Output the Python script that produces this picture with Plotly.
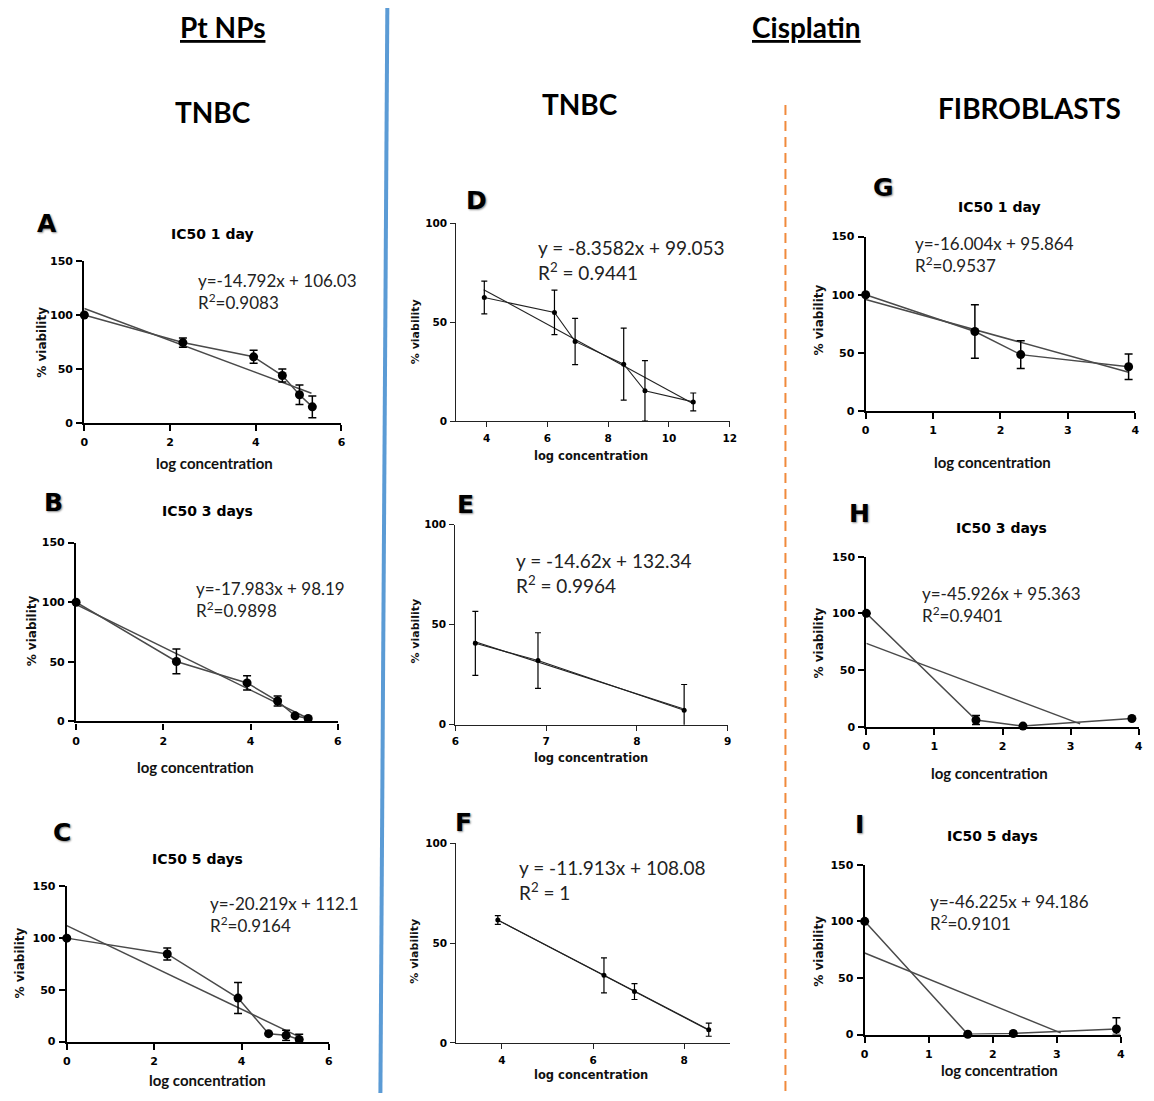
import plotly.graph_objects as go

# browser window size; the page body keeps its default 8px margin,
# so the figure is made 16px smaller to fit the window exactly
WIN_W, WIN_H = 1154, 1101
OFF = 8
W, H = WIN_W - 2 * OFF, WIN_H - 2 * OFF

# ---------------- data ----------------
# Pt NPs - TNBC
A_x = [0, 2.3, 3.95, 4.62, 5.02, 5.32]
A_y = [100, 74.5, 61.3, 44, 26.2, 15]
A_err = [0, 4.3, 6, 6, 9, 10]
A_fit_x = [0, 5.3]
A_fit_y = [106.0, 27.6]

B_x = [0, 2.3, 3.92, 4.62, 5.02, 5.32]
B_y = [100, 50.3, 32.3, 17.1, 4.7, 2.5]
B_err = [0, 10.4, 6, 4.2, 1, 1]
B_fit_x = [0, 5.3]
B_fit_y = [98.2, 2.9]

C_x = [0, 2.3, 3.92, 4.62, 5.02, 5.32]
C_y = [100, 84.7, 42, 7.6, 6, 2]
C_err = [0, 5.8, 15, 0, 5, 5]
C_fit_x = [0, 5.3]
C_fit_y = [112.1, 5.0]

# Cisplatin - TNBC
D_x = [3.92, 6.23, 6.91, 8.51, 9.21, 10.8]
D_y = [62.5, 55, 40.3, 28.8, 15.3, 9.7]
D_err = [8.3, 11.3, 11.7, 18.2, 15.3, 4.5]
D_fit_x = [3.9, 10.8]
D_fit_y = [66.5, 8.8]

E_x = [6.22, 6.91, 8.52]
E_y = [40.7, 32.1, 7.2]
E_err = [16, 13.9, 12.9]
E_fit_x = [6.2, 8.5]
E_fit_y = [41.7, 8.1]

F_x = [3.91, 6.24, 6.91, 8.54]
F_y = [61.5, 33.8, 25.7, 6.6]
F_err = [2.2, 8.8, 4, 3.3]
F_fit_x = [3.9, 8.5]
F_fit_y = [61.6, 6.8]

# Cisplatin - Fibroblasts
G_x = [0, 1.62, 2.3, 3.9]
G_y = [100, 68.5, 48.6, 38.2]
G_err = [0, 23, 12, 11]
G_fit_x = [0, 3.9]
G_fit_y = [95.9, 33.5]

H_x = [0, 1.61, 2.3, 3.9]
H_y = [100, 5.8, 0.5, 7.2]
H_err = [0, 4, 0, 0]
H_fit_x = [0, 3.14]
H_fit_y = [73.5, 2.5]

I_x = [0, 1.61, 2.32, 3.93]
I_y = [100, 0.3, 1, 5]
I_err_plus = [0, 0, 0, 10]
I_err_minus = [0, 0, 0, 5]
I_fit_x = [0, 3.06]
I_fit_y = [72, 1.5]

# labels / texts
letters = ["A", "B", "C", "D", "E", "F", "G", "H", "I"]
titles = ["IC50 1 day", "IC50 3 days", "IC50 5 days", "", "", "",
          "IC50 1 day", "IC50 3 days", "IC50 5 days"]
eq_lines = ["y=-14.792x + 106.03", "y=-17.983x + 98.19", "y=-20.219x + 112.1",
            "y = -8.3582x + 99.053", "y = -14.62x + 132.34", "y = -11.913x + 108.08",
            "y=-16.004x + 95.864", "y=-45.926x + 95.363", "y=-46.225x + 94.186"]
r2_lines = ["R<sup>2</sup>=0.9083", "R<sup>2</sup>=0.9898", "R<sup>2</sup>=0.9164",
            "R<sup>2</sup> = 0.9441", "R<sup>2</sup> = 0.9964", "R<sup>2</sup> = 1",
            "R<sup>2</sup>=0.9537", "R<sup>2</sup>=0.9401", "R<sup>2</sup>=0.9101"]
xticks_gp = [0, 2, 4, 6]
xticks_fib = [0, 1, 2, 3, 4]
yticks_150 = [0, 50, 100, 150]
yticks_100 = [0, 50, 100]
xticks_D = [4, 6, 8, 10, 12]
xticks_E = [6, 7, 8, 9]
xticks_F = [4, 6, 8]

# ---------------- layout geometry (window pixels) ----------------
panels = [
    dict(st="gp", x=A_x, y=A_y, ep=A_err, em=A_err, fx=A_fit_x, fy=A_fit_y,
         box=(81, 340.7, 258, 422), xr=[0, 6], yr=[0, 150], xt=xticks_gp, yt=yticks_150,
         letter=(43, 220), title=(210, 231), eq=(194, 289), xl=(212, 462), yl=(38, 340)),
    dict(st="gp", x=B_x, y=B_y, ep=B_err, em=B_err, fx=B_fit_x, fy=B_fit_y,
         box=(72.7, 337, 543, 724), xr=[0, 6], yr=[0, 150], xt=xticks_gp, yt=yticks_150,
         letter=(50, 502), title=(205, 511), eq=(192, 601), xl=(193, 770), yl=(28, 632)),
    dict(st="gp", x=C_x, y=C_y, ep=C_err, em=C_err, fx=C_fit_x, fy=C_fit_y,
         box=(63.3, 328, 891, 1048), xr=[0, 6], yr=[0, 150], xt=xticks_gp, yt=yticks_150,
         letter=(58, 836), title=(195, 863), eq=(206, 919), xl=(205, 1087), yl=(17, 968)),
    dict(st="xl", x=D_x, y=D_y, ep=D_err, em=D_err, fx=D_fit_x, fy=D_fit_y,
         box=(456.7, 732.7, 220, 420), xr=[3, 12], yr=[0, 100], xt=xticks_D, yt=yticks_100,
         letter=(477, 197), title=(0, 0), eq=(537, 257), xl=(593, 455), yl=(415, 330)),
    dict(st="xl", x=E_x, y=E_y, ep=E_err, em=E_err, fx=E_fit_x, fy=E_fit_y,
         box=(455.7, 730.7, 525, 727.3), xr=[6, 9], yr=[0, 100], xt=xticks_E, yt=yticks_100,
         letter=(466, 504), title=(0, 0), eq=(515, 574), xl=(593, 761), yl=(415, 633)),
    dict(st="xl", x=F_x, y=F_y, ep=F_err, em=F_err, fx=F_fit_x, fy=F_fit_y,
         box=(456.7, 732.7, 847.3, 1049.3), xr=[3, 9], yr=[0, 100], xt=xticks_F, yt=yticks_100,
         letter=(464, 826), title=(0, 0), eq=(518, 884), xl=(593, 1082), yl=(415, 957)),
    dict(st="gp", x=G_x, y=G_y, ep=G_err, em=G_err, fx=G_fit_x, fy=G_fit_y,
         box=(870, 1142.3, 233.3, 410), xr=[0, 4], yr=[0, 150], xt=xticks_fib, yt=yticks_150,
         letter=(888, 184), title=(1005, 203), eq=(918, 251), xl=(998, 461), yl=(823, 318)),
    dict(st="gp", x=H_x, y=H_y, ep=H_err, em=H_err, fx=H_fit_x, fy=H_fit_y,
         box=(870.7, 1145.7, 557.3, 729.3), xr=[0, 4], yr=[0, 150], xt=xticks_fib, yt=yticks_150,
         letter=(864, 514), title=(1007, 528), eq=(925, 606), xl=(995, 776), yl=(823, 645)),
    dict(st="gp", x=I_x, y=I_y, ep=I_err_plus, em=I_err_minus, fx=I_fit_x, fy=I_fit_y,
         box=(869, 1127.7, 869, 1041), xr=[0, 4], yr=[0, 150], xt=xticks_fib, yt=yticks_150,
         letter=(864, 828), title=(998, 840), eq=(933, 917), xl=(1005, 1077), yl=(823, 957)),
]


def px(xp):
    return (xp - OFF) / W


def py(yp):
    return 1 - (yp - OFF) / H


fig = go.Figure()
annotations = []
BOLD_SANS = "DejaVu Sans"

for i, p in enumerate(panels):
    n = i + 1
    xa = "x" if n == 1 else f"x{n}"
    ya = "y" if n == 1 else f"y{n}"
    gp = p["st"] == "gp"
    line_col = "#4a4a4a" if gp else "#222222"
    line_w = 1.5 if gp else 1.1
    msize = 9 if gp else 5
    fig.add_trace(go.Scatter(x=p["fx"], y=p["fy"], mode="lines", xaxis=xa, yaxis=ya,
                             line=dict(color=line_col, width=line_w), cliponaxis=False,
                             showlegend=False, hoverinfo="skip"))
    fig.add_trace(go.Scatter(x=p["x"], y=p["y"], mode="lines+markers", xaxis=xa, yaxis=ya,
                             line=dict(color=line_col, width=line_w),
                             marker=dict(color="black", size=msize, symbol="circle"),
                             error_y=dict(type="data", array=p["ep"], arrayminus=p["em"],
                                          symmetric=False, color="black",
                                          thickness=1.5 if gp else 1.2, width=4 if gp else 3),
                             cliponaxis=False, showlegend=False))
    x0, x1, yt, yb = p["box"]
    axis_common = dict(showgrid=False, zeroline=False, showline=True,
                       linecolor="black" if gp else "#222222",
                       linewidth=2.2 if gp else 1.3, ticks="outside",
                       ticklen=6 if gp else 5, tickwidth=2 if gp else 1.2,
                       tickcolor="black" if gp else "#222222",
                       tickfont=dict(family=BOLD_SANS, size=11 if gp else 10.5, color="black",
                                     weight="bold"),
                       fixedrange=True)
    fig.update_layout(**{
        ("xaxis" if n == 1 else f"xaxis{n}"): dict(
            domain=[px(x0), px(x1)], range=p["xr"], tickmode="array", tickvals=p["xt"],
            anchor=ya, ticklabelstandoff=2, **axis_common),
        ("yaxis" if n == 1 else f"yaxis{n}"): dict(
            domain=[py(yb), py(yt)], range=p["yr"], tickmode="array", tickvals=p["yt"],
            anchor=xa, ticklabelstandoff=1, **axis_common),
    })
    lx, ly = p["letter"]
    annotations.append(dict(text=f"<b>{letters[i]}</b>", x=px(lx), y=py(ly), xref="paper",
                            yref="paper", showarrow=False, xanchor="center", yanchor="middle",
                            font=dict(family=BOLD_SANS, size=25, color="black",
                                      shadow="1px 1px 2px #888")))
    if titles[i]:
        tx, ty = p["title"]
        annotations.append(dict(text=f"<b>{titles[i]}</b>", x=px(tx), y=py(ty), xref="paper",
                                yref="paper", showarrow=False, xanchor="center",
                                yanchor="middle",
                                font=dict(family=BOLD_SANS, size=14, color="black")))
    ex, ey = p["eq"]
    efs = 17 if gp else 19
    annotations.append(dict(text=eq_lines[i] + "<br>" + r2_lines[i], x=px(ex), y=py(ey),
                            xref="paper", yref="paper", showarrow=False, xanchor="left",
                            yanchor="middle", align="left",
                            font=dict(family="Lato", size=efs, color="#222222")))
    xlx, xly = p["xl"]
    annotations.append(dict(text="<b>log concentration</b>", x=px(xlx), y=py(xly),
                            xref="paper", yref="paper", showarrow=False, xanchor="center",
                            yanchor="middle",
                            font=dict(family="Lato" if gp else BOLD_SANS,
                                      size=15 if gp else 11.5, color="#111111")))
    ylx, yly = p["yl"]
    annotations.append(dict(text="<b>% viability</b>", x=px(ylx), y=py(yly), xref="paper",
                            yref="paper", showarrow=False, xanchor="center", yanchor="middle",
                            textangle=-90,
                            font=dict(family=BOLD_SANS, size=12 if gp else 11,
                                      color="#111111")))

headers = [("<u><b>Pt NPs</b></u>", 221, 21), ("<u><b>Cisplatin</b></u>", 810, 21),
           ("<b>TNBC</b>", 211, 107), ("<b>TNBC</b>", 582, 99),
           ("<b>FIBROBLASTS</b>", 1035, 103)]
for txt, hx, hy in headers:
    annotations.append(dict(text=txt, x=px(hx), y=py(hy), xref="paper", yref="paper",
                            showarrow=False, xanchor="center", yanchor="middle",
                            borderpad=0,
                            font=dict(family="Lato", size=28, color="black")))

shapes = [
    dict(type="line", xref="paper", yref="paper", x0=px(387), y0=py(0), x1=px(380),
         y1=py(1101), line=dict(color="#5B9BD5", width=4)),
    dict(type="line", xref="paper", yref="paper", x0=px(789), y0=py(100), x1=px(789),
         y1=py(1101), line=dict(color="#F08A3C", width=2, dash="10px,6px")),
]

fig.update_layout(width=W, height=H, margin=dict(l=0, r=0, t=0, b=0),
                  paper_bgcolor="white", plot_bgcolor="white",
                  annotations=annotations, shapes=shapes, showlegend=False)

fig.write_html("out.html")
